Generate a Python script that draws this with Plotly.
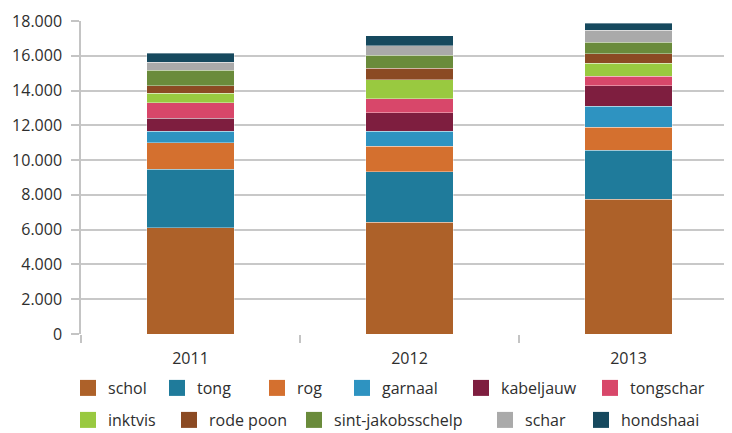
import plotly.graph_objects as go

years = ["2011", "2012", "2013"]
species = ["schol", "tong", "rog", "garnaal", "kabeljauw", "tongschar",
           "inktvis", "rode poon", "sint-jakobsschelp", "schar", "hondshaai"]
schol = [6100, 6440, 7750]
tong = [3370, 2890, 2810]
rog = [1530, 1460, 1330]
garnaal = [670, 880, 1220]
kabeljauw = [750, 1060, 1170]
tongschar = [880, 800, 540]
inktvis = [540, 1090, 760]
rode_poon = [440, 650, 540]
sint_jakobsschelp = [880, 750, 650]
schar = [460, 560, 690]
hondshaai = [520, 560, 420]
y_ticks = [0, 2000, 4000, 6000, 8000, 10000, 12000, 14000, 16000, 18000]

series = [schol, tong, rog, garnaal, kabeljauw, tongschar,
          inktvis, rode_poon, sint_jakobsschelp, schar, hondshaai]
colors = ["#ad6129", "#1f7b9b", "#d4702f", "#2e93c1", "#7e1e3f", "#d8476a",
          "#99c940", "#8b4a23", "#6a8b3b", "#aaaaaa", "#16495e"]

# the page body has an 8px margin: figure pixel = screen pixel - 8
OFF = 8
W, H = 732 - OFF, 433 - OFF
ML, MT = 81 - OFF, 21 - OFF
MR = 0
MB = H - (334 - OFF)

# legend marker left edges / row centers (screen pixels)
leg_pos = [(81, 388), (170, 388), (270, 388), (355, 388), (474, 388), (603, 388),
           (81, 420), (182, 420), (307, 420), (498, 420), (594, 420)]

FONT = "Open Sans"
FS = 16
TXT = "#2e2e2e"
fig = go.Figure()
for i, (name, vals, col) in enumerate(zip(species, series, colors)):
    fig.add_trace(go.Bar(x=years, y=vals, name=name, marker_color=col,
                         marker_line=dict(width=0.8, color="rgba(255,255,255,0.45)"),
                         width=0.4, showlegend=False))
    lg = "legend" if i == 0 else f"legend{i+1}"
    fig.add_trace(go.Scatter(x=[None], y=[None], mode="markers", name=name,
                             marker=dict(symbol="square", size=16, color=col),
                             showlegend=True, legend=lg))

fig.update_layout(
    barmode="stack",
    width=W, height=H,
    margin=dict(l=ML, r=MR, t=MT, b=MB, pad=0, autoexpand=False),
    plot_bgcolor="white", paper_bgcolor="white",
    separators=",.",
    font=dict(family=FONT, size=FS, color=TXT),
    xaxis=dict(type="category", range=[-0.5, 2.4726], showgrid=False,
               showline=False, ticks="outside", tickson="boundaries",
               ticklen=8, tickcolor="#c4c4c4", tickwidth=1.5,
               ticklabelstandoff=13, automargin=False,
               tickfont=dict(size=FS, color=TXT)),
    yaxis=dict(range=[0, 18000], tickvals=y_ticks, tickformat=",d",
               showgrid=True, gridcolor="#c8c8c8", gridwidth=1.5,
               showline=True, linecolor="#c4c4c4", linewidth=1.5,
               ticks="outside", ticklen=8, tickcolor="#c4c4c4", tickwidth=1.5,
               ticklabelstandoff=6, zeroline=False, automargin=False,
               tickfont=dict(size=FS, color=TXT)),
)

for i, (px, py) in enumerate(leg_pos):
    key = "legend" if i == 0 else f"legend{i+1}"
    fx, fy = px - OFF - 13, py - OFF
    fig.update_layout(**{key: dict(x=fx / W, y=1 - fy / H,
                                   xref="container", yref="container",
                                   xanchor="left", yanchor="middle", orientation="h",
                                   bgcolor="rgba(0,0,0,0)", borderwidth=0,
                                   font=dict(family=FONT, size=FS, color=TXT),
                                   itemclick=False, itemdoubleclick=False)})

fig.write_html("out.html")
